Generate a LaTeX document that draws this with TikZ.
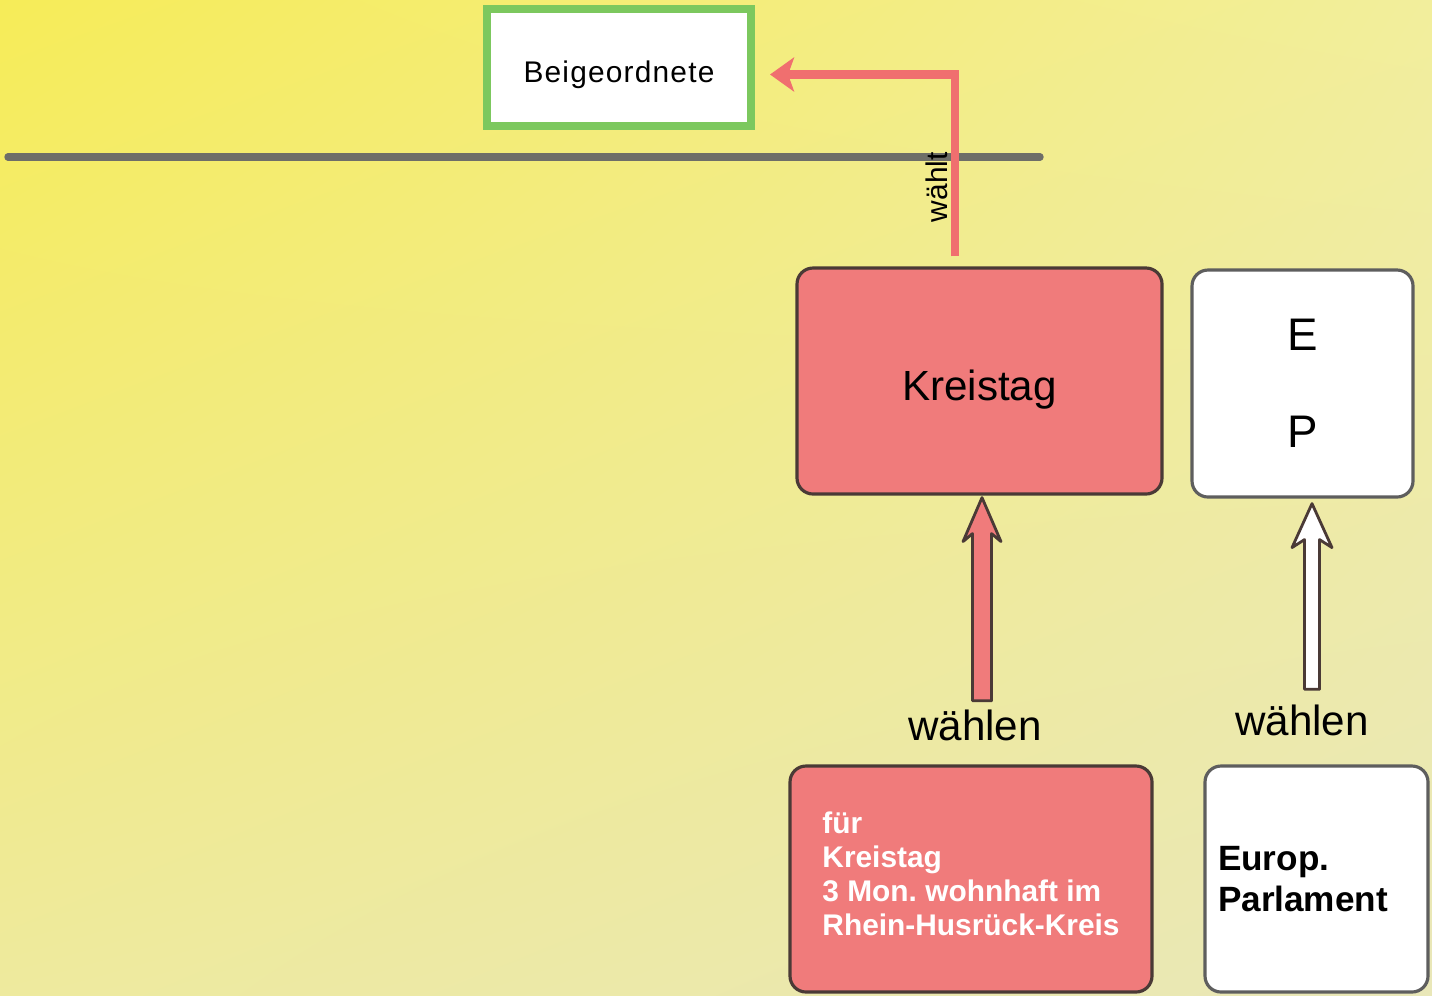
\documentclass[tikz,border=0pt]{standalone}
\usepackage{fontspec}
\setmainfont{Liberation Sans}
\usepackage{tikz}
\usetikzlibrary{arrows.meta}
\usetikzlibrary{calc}
\usetikzlibrary{shadings}
\usepackage{xcolor}
\frenchspacing

\definecolor{bgul}{HTML}{F6EC58}
\definecolor{bgur}{HTML}{F2EE9C}
\definecolor{bgll}{HTML}{EEEA9E}
\definecolor{bglr}{HTML}{E9E7B8}
\definecolor{kreisrot}{HTML}{F07B7B}
\definecolor{pfeilrot}{HTML}{F06F6F}
\definecolor{rahmengruen}{HTML}{7CC85E}
\definecolor{liniengrau}{HTML}{6E6E68}
\definecolor{kantedunkel}{HTML}{4A3A36}
\definecolor{kantegrau}{HTML}{5E5E5E}

\begin{document}
\begin{tikzpicture}[>=Stealth,
		redbox/.style={fill=kreisrot, draw=kantedunkel, line width=0.9pt, rounded corners=0.16cm, minimum height=2.26cm, inner sep=0pt},
		whitebox/.style={fill=white, draw=kantegrau, line width=0.9pt, rounded corners=0.16cm, minimum height=2.26cm, inner sep=0pt},
		wahltext/.style={inner sep=0pt, font=\fontsize{12}{14}\selectfont},
		blockpfeil/.style={draw=kantedunkel, line width=0.8pt, line join=round}]
		
		% Hintergrund
		\useasboundingbox (0,0) rectangle (14.32,-9.95);
		\shade[upper left=bgul, upper right=bgur, lower left=bgll, lower right=bglr] (0,0) rectangle (14.32,-9.95);
		
		% Trennlinie
		\coordinate (t1) at (0.08,-1.57);
		\coordinate (t2) at (10.40,-1.57);
		\draw[liniengrau, line width=2.1pt, line cap=round] (t1) -- (t2);
		
		% Beigeordnete
		\node[draw=rahmengruen, fill=white, line width=2.3pt, minimum width=2.64cm, minimum height=1.17cm, text height=0.36cm, text depth=0.06cm, font=\fontsize{8.5}{10}\selectfont\addfontfeature{LetterSpace=4}] (beig) at (6.19,-0.675) {Beigeordnete};
		
		% Kreistag und EP
		\node[redbox, minimum width=3.65cm, text height=0.46cm, text depth=0.07cm, font=\fontsize{12}{14}\selectfont] (kt) at (9.795,-3.81) {Kreistag};
		\node[whitebox, minimum width=2.21cm, minimum height=2.27cm, align=center, font=\fontsize{13}{27.5}\selectfont] (ep) at (13.025,-3.835) {E\\P};
		
		% Wahlberechtigte
		\node[redbox, minimum width=3.62cm, align=left, text depth=0.1cm, text=white, font=\fontsize{8.5}{9.7}\selectfont\bfseries] (kvor) at (9.71,-8.79) {für\\Kreistag\\3 Mon. wohnhaft im\\Rhein-Husrück-Kreis};
		\node[whitebox, minimum width=2.23cm, text width=1.97cm, align=left, font=\fontsize{10}{11.6}\selectfont\bfseries] (epvor) at (13.165,-8.79) {Europ.\\Parlament};
		
		\node[wahltext] (wk) at (9.75,-7.25) {wählen};
		\node[wahltext] (wep) at (13.02,-7.20) {wählen};
		
		% Kreistag waehlt Beigeordnete
		\draw[pfeilrot, line width=2.3pt, -{Stealth[length=0.24cm, width=0.34cm, inset=0.06cm]}] ([xshift=-0.245cm, yshift=0.1cm]kt.north) |- node[pos=0.19, rotate=90, anchor=south, inner sep=1pt, text=black, font=\fontsize{8.5}{10}\selectfont] (wt) {wählt} ([xshift=0.15cm, yshift=-0.07cm]beig.east);
		
		% Blockpfeile
		\draw[blockpfeil, fill=kreisrot] let \p1=($(wk.north)+(0.07,0.08)$), \p2=($(kt.south)+(0,-0.02)$) in
			(\x1-0.095cm,\y1) -- (\x1-0.095cm,\y2-0.36cm) -- (\x1-0.19cm,\y2-0.44cm) -- (\x1,\y2)
			-- (\x1+0.19cm,\y2-0.44cm) -- (\x1+0.095cm,\y2-0.36cm) -- (\x1+0.095cm,\y1) -- cycle;
		\draw[blockpfeil, fill=white] let \p1=($(wep.north)+(0.10,0.145)$), \p2=($(ep.south)+(0,-0.05)$) in
			(\x1-0.075cm,\y1) -- (\x1-0.075cm,\y2-0.36cm) -- (\x1-0.20cm,\y2-0.44cm) -- (\x1,\y2)
			-- (\x1+0.20cm,\y2-0.44cm) -- (\x1+0.075cm,\y2-0.36cm) -- (\x1+0.075cm,\y1) -- cycle;
		
	\end{tikzpicture}
\end{document}
